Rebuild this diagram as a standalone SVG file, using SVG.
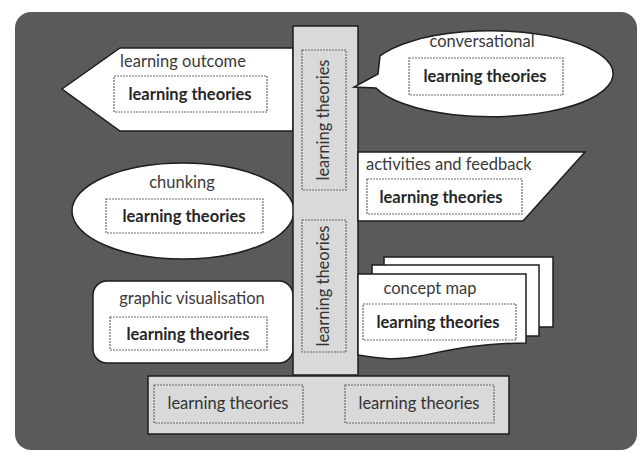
<svg xmlns="http://www.w3.org/2000/svg" width="640" height="453" viewBox="0 0 640 453">
<style>
.shape{fill:#ffffff;stroke:#1e1e1e;stroke-width:1.5}
.post{fill:#d9d9d9;stroke:#1e1e1e;stroke-width:1.5}
.dash{fill:none;stroke:#6a6a6a;stroke-width:1.2;stroke-dasharray:2 1}
.lbl{font-family:Lato,"Open Sans",sans-serif;font-size:16.5px;fill:#3a3a3a}
.bold{font-family:Lato,"Open Sans",sans-serif;font-size:16.5px;font-weight:bold;fill:#262626}
.reg{font-family:Lato,"Open Sans",sans-serif;font-size:16.5px;fill:#333333}
</style>
<rect x="15" y="12" width="622" height="438" rx="16" fill="#5a5a5a"/>
<g id="connectors"></g>
<g id="learning-outcome">
<polygon class="shape" points="62,89 120,48 293,48 293,131 120,131"/>
<text class="lbl" x="183" y="67" text-anchor="middle">learning outcome</text>
<rect class="dash" x="114" y="76" width="153" height="36"/>
<text class="bold" x="190" y="100" text-anchor="middle">learning theories</text>
</g>
<g id="chunking">
<ellipse class="shape" cx="183" cy="211" rx="111" ry="48"/>
<text class="lbl" x="182" y="188" text-anchor="middle">chunking</text>
<rect class="dash" x="106" y="199" width="157" height="34"/>
<text class="bold" x="184" y="222" text-anchor="middle">learning theories</text>
</g>
<g id="graphic-visualisation">
<rect class="shape" x="93" y="281" width="200" height="82" rx="14"/>
<text class="lbl" x="192" y="304" text-anchor="middle">graphic visualisation</text>
<rect class="dash" x="110" y="317" width="157" height="33"/>
<text class="bold" x="188" y="340" text-anchor="middle">learning theories</text>
</g>
<g id="post">
<rect class="post" x="293" y="26" width="65" height="349"/>
<rect class="dash" x="302" y="50" width="44" height="140"/>
<text class="reg" transform="translate(329,120) rotate(-90)" text-anchor="middle">learning theories</text>
<rect class="dash" x="302" y="220" width="44" height="132"/>
<text class="reg" transform="translate(329,286) rotate(-90)" text-anchor="middle">learning theories</text>
</g>
<g id="conversational">
<path class="shape" d="M376,88 A122,43 0 1 0 380,56 L378,74 L354,87 Z"/>
<text class="lbl" x="482" y="47" text-anchor="middle">conversational</text>
<rect class="dash" x="409" y="58" width="154" height="37"/>
<text class="bold" x="485" y="82" text-anchor="middle">learning theories</text>
</g>
<g id="activities-and-feedback">
<polygon class="shape" points="358,152 585,152 523,221 358,221"/>
<text class="lbl" x="366" y="170">activities and feedback</text>
<rect class="dash" x="367" y="179" width="155" height="35"/>
<text class="bold" x="441" y="203" text-anchor="middle">learning theories</text>
</g>
<g id="concept-map">
<rect class="shape" x="384" y="257" width="169" height="70"/>
<rect class="shape" x="372" y="265" width="167" height="71"/>
<path class="shape" d="M358,274 L526,274 L526,343 C480,343 450,350 420,356 C395,361 375,358 358,355 Z"/>
<text class="lbl" x="430" y="294" text-anchor="middle">concept map</text>
<rect class="dash" x="363" y="304" width="153" height="36"/>
<text class="bold" x="438" y="328" text-anchor="middle">learning theories</text>
</g>
<g id="base">
<rect class="post" x="148" y="376" width="361" height="58"/>
<rect class="dash" x="154" y="385" width="149" height="38"/>
<text class="reg" x="228" y="409" text-anchor="middle">learning theories</text>
<rect class="dash" x="345" y="385" width="149" height="38"/>
<text class="reg" x="419" y="409" text-anchor="middle">learning theories</text>
</g>
</svg>
